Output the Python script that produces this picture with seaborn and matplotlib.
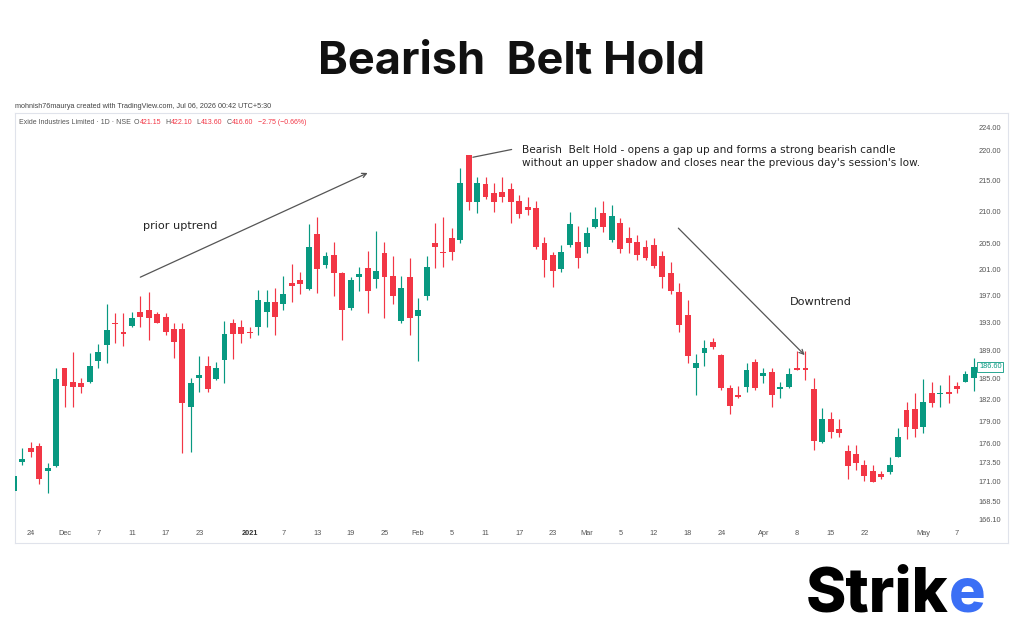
import numpy as np
import pandas as pd
import matplotlib
matplotlib.use("Agg")
import matplotlib.pyplot as plt
import matplotlib.transforms as mtransforms
from matplotlib.ticker import FixedLocator, NullLocator, FuncFormatter
import seaborn as sns

# ---------------- data ----------------
holidays = ["2020-11-30", "2020-12-25", "2021-01-26", "2021-03-11",
            "2021-03-29", "2021-04-02", "2021-04-14", "2021-04-21"]

opens = [169.8, 173.6, 175.5, 175.7, 172.4, 173.1, 186.4, 184.5, 184.4, 184.5,
         187.5, 189.8, 193.0, 191.6, 192.5, 194.6, 194.9, 194.3, 193.9, 192.1,
         192.1, 181.0, 185.0, 186.8, 184.9, 187.6, 193.0, 192.4, 191.6, 192.4,
         194.6, 196.1, 195.7, 198.9, 199.4, 198.0, 206.5, 201.6, 203.2, 200.4,
         195.2, 199.8, 201.2, 199.5, 203.5, 200.0, 193.2, 199.8, 194.0, 196.9,
         205.0, 203.6, 205.8, 205.5, 219.2, 211.6, 214.5, 213.1, 213.2, 213.7,
         211.8, 210.8, 210.6, 205.0, 203.2, 201.0, 204.8, 205.3, 204.5, 207.6,
         209.8, 205.5, 208.2, 205.8, 205.2, 204.5, 204.8, 203.0, 200.4, 197.6,
         194.2, 186.5, 188.6, 190.2, 188.3, 183.6, 182.7, 183.8, 187.3, 185.3,
         185.9, 183.5, 183.8, 186.4, 186.4, 183.5, 176.3, 179.4, 178.0, 175.1,
         174.7, 173.2, 172.4, 172.0, 172.3, 174.3, 180.6, 180.7, 178.2, 183.0,
         182.8, 183.1, 183.9, 184.5, 185.1]

highs = [172.2, 175.5, 176.3, 176.1, 173.4, 186.4, 186.5, 188.7, 185.1, 188.6,
         189.9, 195.7, 194.5, 194.5, 194.6, 197.0, 197.6, 194.6, 194.5, 193.0,
         193.0, 185.1, 188.2, 188.2, 187.3, 193.2, 193.6, 193.4, 192.4, 197.9,
         197.9, 198.2, 200.0, 201.8, 200.6, 208.1, 209.2, 203.6, 205.2, 200.6,
         199.8, 201.3, 203.8, 206.9, 205.2, 203.0, 200.0, 202.7, 196.7, 203.0,
         208.2, 209.2, 207.4, 217.1, 219.2, 215.6, 215.6, 214.7, 215.6, 214.7,
         212.7, 212.4, 211.8, 206.0, 203.6, 204.8, 210.0, 207.7, 207.6, 210.7,
         211.8, 211.1, 209.0, 207.6, 206.3, 205.5, 205.8, 203.9, 202.1, 198.9,
         196.4, 188.4, 190.5, 190.8, 188.4, 184.0, 183.9, 187.1, 187.8, 186.5,
         186.5, 184.5, 186.4, 188.9, 188.9, 185.0, 180.9, 180.3, 179.4, 175.9,
         175.9, 173.8, 173.2, 172.4, 174.3, 178.1, 181.7, 183.0, 184.9, 184.5,
         184.0, 185.4, 184.5, 186.1, 187.9]

lows = [169.5, 173.2, 174.3, 170.7, 169.5, 172.9, 181.0, 181.0, 183.0, 184.3,
        186.5, 187.2, 190.1, 189.6, 192.4, 192.4, 190.4, 192.9, 191.2, 187.9,
        174.8, 174.9, 183.1, 183.1, 184.7, 184.3, 187.8, 190.1, 190.7, 191.2,
        192.4, 191.2, 194.9, 196.1, 197.2, 197.9, 197.4, 201.2, 196.9, 190.4,
        194.9, 197.7, 194.5, 198.2, 193.7, 195.7, 193.0, 191.2, 187.5, 196.4,
        201.2, 201.3, 202.4, 205.0, 210.3, 209.8, 212.0, 210.0, 211.5, 208.2,
        209.0, 209.5, 204.2, 199.8, 198.3, 200.6, 204.4, 201.2, 203.5, 207.4,
        206.8, 205.2, 203.5, 203.5, 202.4, 202.4, 201.2, 198.2, 197.2, 191.6,
        187.1, 182.7, 186.8, 189.2, 183.4, 180.1, 182.3, 183.1, 183.4, 184.3,
        181.0, 182.3, 183.6, 186.2, 184.7, 175.2, 176.1, 176.8, 176.9, 171.4,
        172.5, 171.1, 170.9, 171.4, 172.0, 174.2, 176.7, 176.9, 177.4, 181.0,
        181.0, 181.6, 183.0, 184.5, 183.2]

closes = [171.8, 174.0, 174.9, 171.3, 172.8, 184.9, 183.9, 183.8, 183.8, 186.8,
          188.7, 191.9, 192.8, 191.3, 193.7, 193.9, 193.7, 193.0, 191.6, 190.2,
          181.6, 184.3, 185.4, 183.5, 186.4, 191.3, 191.3, 191.3, 191.5, 196.4,
          196.1, 193.9, 197.2, 198.5, 198.8, 204.4, 201.0, 203.0, 200.4, 194.8,
          199.4, 200.3, 197.7, 200.7, 199.8, 197.0, 198.2, 193.7, 194.8, 201.3,
          204.5, 203.5, 203.6, 214.7, 211.6, 214.7, 212.4, 211.5, 212.4, 211.5,
          209.7, 210.3, 204.5, 202.5, 200.7, 203.6, 208.1, 202.7, 206.6, 208.9,
          207.6, 209.4, 204.2, 205.0, 203.2, 202.8, 201.5, 199.8, 197.7, 192.7,
          188.2, 187.2, 189.3, 189.5, 183.6, 181.1, 182.4, 186.2, 183.6, 185.7,
          182.7, 183.8, 185.6, 186.2, 186.2, 176.4, 179.4, 177.6, 177.4, 173.1,
          173.5, 171.8, 171.0, 171.6, 173.2, 176.9, 178.2, 178.0, 181.7, 181.6,
          183.0, 182.8, 183.5, 185.6, 186.6]

price_ticks = [166.1, 168.5, 171.0, 173.5, 176.0, 179.0, 182.0, 185.0, 189.0,
               193.0, 197.0, 201.0, 205.0, 210.0, 215.0, 220.0, 224.0]

tick_dates = ["2020-11-24", "2020-12-01", "2020-12-07", "2020-12-11", "2020-12-17",
              "2020-12-23", "2021-01-01", "2021-01-07", "2021-01-13", "2021-01-19",
              "2021-01-25", "2021-02-01", "2021-02-05", "2021-02-11", "2021-02-17",
              "2021-02-23", "2021-03-01", "2021-03-05", "2021-03-12", "2021-03-18",
              "2021-03-24", "2021-04-01", "2021-04-08", "2021-04-15", "2021-04-22",
              "2021-05-03", "2021-05-07"]
tick_labels = ["24", "Dec", "7", "11", "17", "23", "2021", "7", "13", "19", "25",
               "Feb", "5", "11", "17", "23", "Mar", "5", "12", "18", "24", "Apr",
               "8", "15", "22", "May", "7"]

title = "Bearish  Belt Hold"
credit = "mohnish76maurya created with TradingView.com, Jul 06, 2026 00:42 UTC+5:30"
symbol = "Exide Industries Limited \u00b7 1D \u00b7 NSE"
ohlc_parts = [("O", "421.15"), ("H", "422.10"), ("L", "413.60"), ("C", "416.60")]
change_text = "\u22122.75 (\u22120.66%)"
belt_note = ("Bearish  Belt Hold - opens a gap up and forms a strong bearish candle\n"
             "without an upper shadow and closes near the previous day's session's low.")

# ---------------- style ----------------
sns.set_theme(style="white")
plt.rcParams["font.family"] = ["DejaVu Sans"]
GREEN = "#089981"
RED = "#F23645"
SMALL = "Liberation Sans"

dates = pd.bdate_range("2020-11-20", "2021-05-11", freq="C", holidays=holidays)
df = pd.DataFrame({"date": dates, "open": opens, "high": highs,
                   "low": lows, "close": closes})
df["pos"] = np.arange(len(df))
up = df["close"] >= df["open"]
colors = np.where(up, GREEN, RED)

W, H = 1024, 640
fig = plt.figure(figsize=(W / 100, H / 100), dpi=100)
fig.patch.set_facecolor("white")
ax = fig.add_axes([15 / W, 1 - 543 / H, 993 / W, 430 / H])
ax.set_facecolor("white")
ax.set_yscale("log")

# wicks and bodies
ax.vlines(df["pos"], df["low"], df["high"], colors=colors, linewidth=0.85, zorder=2)
body_lo = np.minimum(df["open"], df["close"])
body_h = np.maximum((df["close"] - df["open"]).abs(), 0.18)
ax.bar(df["pos"], body_h, bottom=body_lo, width=0.7, color=colors,
       linewidth=0, zorder=3)

ax.set_xlim(0.12, 118.05)
ax.set_ylim(163.2, 226.4)

# y axis (inside, right)
ax.yaxis.set_major_locator(FixedLocator(price_ticks))
ax.yaxis.set_minor_locator(NullLocator())
ax.yaxis.set_major_formatter(FuncFormatter(lambda v, p: f"{v:.2f}"))
ax.yaxis.tick_right()
ax.tick_params(axis="y", which="both", length=0, pad=-21.5,
               labelsize=5.3, labelcolor="#555555")
for lab in ax.get_yticklabels():
    lab.set_fontfamily(SMALL)

# x axis (inside, bottom)
date_to_pos = dict(zip(df["date"], df["pos"]))
xt = [date_to_pos[pd.Timestamp(d)] for d in tick_dates]
ax.set_xticks(xt)
ax.set_xticklabels(tick_labels)
ax.tick_params(axis="x", length=0, pad=-9.5, labelsize=5.3, labelcolor="#555555")
for lab in ax.get_xticklabels():
    lab.set_fontfamily(SMALL)
ax.get_xticklabels()[tick_labels.index("2021")].set_fontweight("bold")
ax.get_xticklabels()[tick_labels.index("2021")].set_color("#333333")

for s in ax.spines.values():
    s.set_color("#e0e3eb")
    s.set_linewidth(0.8)
ax.grid(False)

# last price label
trans = mtransforms.blended_transform_factory(ax.transAxes, ax.transData)
ax.text((979 - 15) / 993, closes[-1], f"{closes[-1]:.2f}", transform=trans,
        ha="left", va="center", fontsize=5.3, color=GREEN, family=SMALL,
        bbox=dict(boxstyle="square,pad=0.25", fc="white", ec=GREEN, lw=0.6),
        zorder=5)

# annotations
arrow_kw = dict(arrowstyle="->", color="#555555", lw=0.9,
                mutation_scale=8, shrinkA=0, shrinkB=0)
ax.annotate("", xy=(42.0, 216.3), xytext=(15.0, 199.8), arrowprops=arrow_kw)
ax.annotate("", xy=(93.9, 188.3), xytext=(78.9, 207.4), arrowprops=arrow_kw)
ax.annotate("", xy=(59.1, 220.2), xytext=(54.5, 218.9),
            arrowprops=dict(arrowstyle="-", color="#555555", lw=0.9,
                            shrinkA=0, shrinkB=0))
ax.text(15.3, 207.7, "prior uptrend", ha="left", va="center",
        fontsize=8.1, color="#222222")
ax.text(92.2, 196.1, "Downtrend", ha="left", va="center",
        fontsize=8.1, color="#222222")
ax.text(60.3, 219.0, belt_note, ha="left", va="center", fontsize=7.6,
        color="#222222", linespacing=1.3)

# figure texts
fig.text(0.5, 1 - 62 / H, title, ha="center", va="center", fontsize=32.5,
         fontweight="bold", family=["Inter", "DejaVu Sans"], color="#111111")
fig.text(15 / W, 1 - 106 / H, credit, ha="left", va="center", fontsize=5.2,
         family=SMALL, color="#444444")

renderer = fig.canvas.get_renderer()
hdr_y = 1 - 123 / H
cur = fig.text(19 / W, hdr_y, symbol, ha="left", va="center", fontsize=5.0,
               family=SMALL, color="#555555")
x_px = cur.get_window_extent(renderer).x1 + 3
for letter, val in ohlc_parts:
    t = fig.text(x_px / W, hdr_y, letter, ha="left", va="center", fontsize=5.0,
                 family=SMALL, color="#555555")
    x_px = t.get_window_extent(renderer).x1 + 0.5
    t = fig.text(x_px / W, hdr_y, val, ha="left", va="center", fontsize=5.0,
                 family=SMALL, color=RED)
    x_px = t.get_window_extent(renderer).x1 + 4
fig.text(x_px / W, hdr_y, change_text, ha="left", va="center", fontsize=5.0,
         family=SMALL, color=RED)

# logo
t1 = fig.text(806 / W, 1 - 612 / H, "Strik", ha="left", va="baseline",
              fontsize=44, fontweight="heavy", family=["Inter", "DejaVu Sans"],
              color="#000000")
bb = t1.get_window_extent(renderer)
fig.text(bb.x1 / W, 1 - 612 / H, "e", ha="left", va="baseline",
         fontsize=44, fontweight="heavy", family=["Inter", "DejaVu Sans"],
         color="#3b6ff5")

fig.savefig("out.png", dpi=100, facecolor="white")
